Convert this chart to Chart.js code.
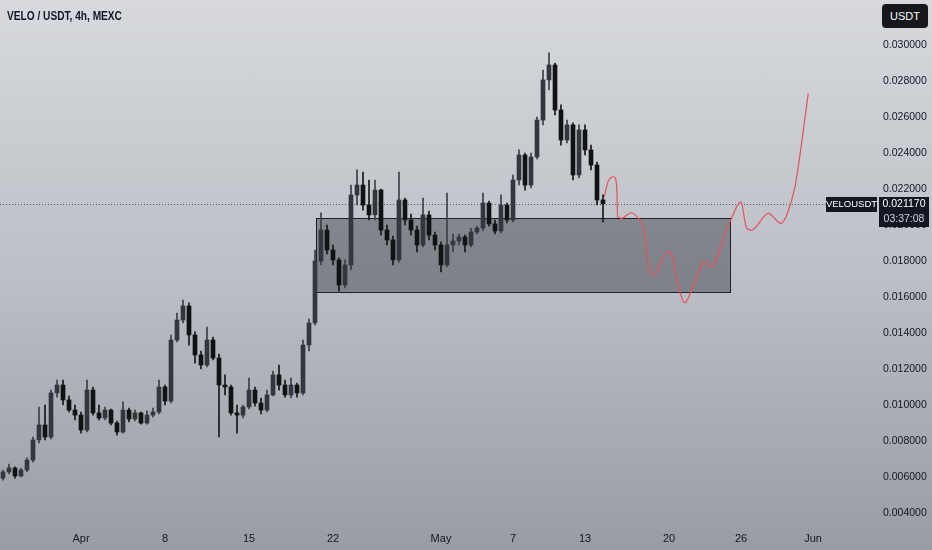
<!DOCTYPE html>
<html>
<head>
<meta charset="utf-8">
<title>VELO / USDT, 4h, MEXC</title>
<script src="https://cdn.jsdelivr.net/npm/chart.js@4.4.1/dist/chart.umd.min.js"></script>
<style>
  html, body { margin: 0; padding: 0; }
  body {
    width: 932px; height: 550px; overflow: hidden; position: relative;
    background: linear-gradient(180deg, #d7d9de 0%, #bcbfc5 50%, #999ca3 100%);
    font-family: 'Liberation Sans', Arial, sans-serif;
  }
  #wrap { position: absolute; left: 0; top: 0; width: 932px; height: 550px; }
  #title {
    position: absolute; left: 7px; top: 8px; font-weight: bold; font-size: 13px; color: #131722;
    transform: scaleX(0.78); transform-origin: left top; white-space: nowrap;
  }
  #unit {
    position: absolute; left: 882px; top: 4px; width: 46px; height: 24px;
    background: #15171c; border-radius: 4px; color: #fff; font-size: 11px;
    line-height: 24px; text-align: center;
  }
</style>
</head>
<body>
<div id="wrap"><canvas id="chart"></canvas></div>
<div id="title">VELO / USDT, 4h, MEXC</div>
<div id="unit">USDT</div>
<script>
// candles: 12h buckets, time in days from Apr 1
const firstCandleDay = -6.5;
const candleStepDays = 0.5;

const opens = [
  0.00594, 0.00628, 0.00650, 0.00606, 0.00639, 0.00694, 0.00806, 0.00889, 0.00822, 0.01067,
  0.01111, 0.01028, 0.00972, 0.00944, 0.00861, 0.01083, 0.00956, 0.00928, 0.00972, 0.00900,
  0.00850, 0.00972, 0.00922, 0.00956, 0.00900, 0.00944, 0.00961, 0.01100, 0.01022, 0.01361,
  0.01472, 0.01550, 0.01389, 0.01278, 0.01222, 0.01361, 0.01261, 0.01111, 0.01100, 0.00956,
  0.00944, 0.00989, 0.01083, 0.01011, 0.00972, 0.01056, 0.01167, 0.01111, 0.01056, 0.01111,
  0.01067, 0.01333, 0.01456, 0.01800, 0.01972, 0.01861, 0.01806, 0.01667, 0.01778, 0.02167,
  0.02222, 0.02111, 0.02056, 0.02194, 0.01972, 0.01917, 0.01806, 0.02139, 0.02028, 0.01972,
  0.01889, 0.02056, 0.01944, 0.01889, 0.01778, 0.01889, 0.01911, 0.01933, 0.01889, 0.01961,
  0.01983, 0.02122, 0.02006, 0.01967, 0.02111, 0.02028, 0.02250, 0.02389, 0.02222, 0.02378,
  0.02583, 0.02806, 0.02889, 0.02639, 0.02472, 0.02556, 0.02278, 0.02528, 0.02417, 0.02333,
  0.02139
];
const highs = [
  0.00639, 0.00672, 0.00656, 0.00650, 0.00706, 0.00822, 0.00989, 0.01000, 0.01083, 0.01139,
  0.01139, 0.01050, 0.01000, 0.00961, 0.01139, 0.01100, 0.01000, 0.00989, 0.00978, 0.00911,
  0.01017, 0.00983, 0.00972, 0.00961, 0.00967, 0.00983, 0.01139, 0.01111, 0.01389, 0.01511,
  0.01583, 0.01567, 0.01406, 0.01300, 0.01433, 0.01378, 0.01283, 0.01167, 0.01111, 0.01000,
  0.01000, 0.01150, 0.01100, 0.01039, 0.01083, 0.01189, 0.01222, 0.01139, 0.01150, 0.01122,
  0.01361, 0.01478, 0.01861, 0.02067, 0.02000, 0.01889, 0.01817, 0.01806, 0.02222, 0.02306,
  0.02294, 0.02250, 0.02250, 0.02200, 0.02000, 0.01939, 0.02294, 0.02150, 0.02061, 0.01994,
  0.02150, 0.02078, 0.01961, 0.01906, 0.02178, 0.01950, 0.01950, 0.01944, 0.01983, 0.01994,
  0.02178, 0.02133, 0.02028, 0.02167, 0.02122, 0.02278, 0.02417, 0.02400, 0.02400, 0.02600,
  0.02861, 0.02956, 0.02900, 0.02667, 0.02583, 0.02567, 0.02556, 0.02556, 0.02444, 0.02350,
  0.02167
];
const lows = [
  0.00583, 0.00617, 0.00594, 0.00600, 0.00628, 0.00683, 0.00789, 0.00806, 0.00811, 0.01044,
  0.01000, 0.00961, 0.00917, 0.00844, 0.00850, 0.00944, 0.00917, 0.00917, 0.00889, 0.00833,
  0.00844, 0.00906, 0.00911, 0.00894, 0.00894, 0.00933, 0.00950, 0.01000, 0.01011, 0.01350,
  0.01456, 0.01333, 0.01233, 0.01200, 0.01211, 0.01250, 0.00822, 0.01056, 0.00944, 0.00844,
  0.00928, 0.00978, 0.00994, 0.00950, 0.00961, 0.01050, 0.01083, 0.01044, 0.01039, 0.01044,
  0.01056, 0.01300, 0.01444, 0.01778, 0.01839, 0.01778, 0.01633, 0.01650, 0.01750, 0.02111,
  0.02083, 0.02028, 0.02028, 0.01944, 0.01889, 0.01778, 0.01794, 0.02000, 0.01944, 0.01850,
  0.01878, 0.01917, 0.01861, 0.01739, 0.01767, 0.01850, 0.01889, 0.01850, 0.01878, 0.01950,
  0.01967, 0.01994, 0.01950, 0.01956, 0.02011, 0.02017, 0.02222, 0.02194, 0.02206, 0.02367,
  0.02556, 0.02750, 0.02611, 0.02444, 0.02456, 0.02250, 0.02261, 0.02389, 0.02306, 0.02111,
  0.02017
];
const closes = [
  0.00628, 0.00650, 0.00606, 0.00639, 0.00694, 0.00806, 0.00889, 0.00822, 0.01067, 0.01111,
  0.01028, 0.00972, 0.00944, 0.00861, 0.01083, 0.00956, 0.00928, 0.00972, 0.00900, 0.00850,
  0.00972, 0.00922, 0.00956, 0.00900, 0.00944, 0.00961, 0.01100, 0.01022, 0.01361, 0.01472,
  0.01550, 0.01389, 0.01278, 0.01222, 0.01361, 0.01261, 0.01111, 0.01100, 0.00956, 0.00944,
  0.00989, 0.01083, 0.01011, 0.00972, 0.01056, 0.01167, 0.01111, 0.01056, 0.01111, 0.01067,
  0.01333, 0.01456, 0.01800, 0.01972, 0.01861, 0.01806, 0.01667, 0.01778, 0.02167, 0.02222,
  0.02111, 0.02056, 0.02194, 0.01972, 0.01917, 0.01806, 0.02139, 0.02028, 0.01972, 0.01889,
  0.02056, 0.01944, 0.01889, 0.01778, 0.01889, 0.01911, 0.01933, 0.01889, 0.01961, 0.01983,
  0.02122, 0.02006, 0.01967, 0.02111, 0.02028, 0.02250, 0.02389, 0.02222, 0.02378, 0.02583,
  0.02806, 0.02889, 0.02639, 0.02472, 0.02556, 0.02278, 0.02528, 0.02417, 0.02333, 0.02139,
  0.02117
];

// hand drawn red projection
const forecastDays = [43.61, 43.92, 44.42, 44.64, 44.72, 45.06, 45.83, 46.44, 46.86, 47.42,
  47.69, 48.94, 49.28, 49.78, 50.33, 50.89, 52.0, 52.42, 54.08, 55.0, 55.47, 55.89, 57.28,
  58.33, 58.81, 59.5, 60.61];
const forecastPrices = [0.02157, 0.02241, 0.02268, 0.02213, 0.02046, 0.02037, 0.02068, 0.02037,
  0.01991, 0.01732, 0.01722, 0.01852, 0.01824, 0.01657, 0.01568, 0.01639, 0.01796, 0.01768,
  0.02018, 0.02129, 0.01982, 0.01972, 0.02065, 0.02009, 0.02056, 0.02213, 0.02732];

// support zone
const boxFrom = 19.58, boxTo = 54.08;
const boxHigh = 0.02039, boxLow = 0.01628;

const lastPrice = 0.02117;
const countdown = '03:37:08';
const symbol = 'VELOUSDT';

const yTicks = [0.004, 0.006, 0.008, 0.010, 0.012, 0.014, 0.016, 0.018, 0.020, 0.022, 0.024, 0.026, 0.028, 0.030];
const xTickDays = [0, 7, 14, 21, 30, 36, 42, 49, 55, 61];
const xTickLabels = ['Apr', '8', '15', '22', 'May', '7', '13', '20', '26', 'Jun'];

const candleDays = closes.map((_, i) => firstCandleDay + i * candleStepDays);
const isUp = closes.map((c, i) => c >= opens[i]);
const fontFamily = "'Liberation Sans', Arial, sans-serif";

const overlay = {
  id: 'overlay',
  beforeDatasetsDraw(chart) {
    const { ctx, chartArea, scales: { x, y } } = chart;
    const x0 = x.getPixelForValue(boxFrom), x1 = x.getPixelForValue(boxTo);
    const y0 = y.getPixelForValue(boxHigh), y1 = y.getPixelForValue(boxLow);
    ctx.save();
    ctx.fillStyle = 'rgba(45, 48, 56, 0.42)';
    ctx.fillRect(x0, y0, x1 - x0, y1 - y0);
    ctx.strokeStyle = '#1d2026';
    ctx.lineWidth = 1;
    ctx.strokeRect(Math.round(x0) + 0.5, Math.round(y0) + 0.5, Math.round(x1 - x0), Math.round(y1 - y0));
    // last price dotted line
    const py = Math.round(y.getPixelForValue(lastPrice)) + 0.5;
    ctx.setLineDash([1, 2]);
    ctx.strokeStyle = '#55585e';
    ctx.beginPath();
    ctx.moveTo(chartArea.left, py);
    ctx.lineTo(chartArea.right - 44, py);
    ctx.stroke();
    ctx.restore();
  },
  afterDraw(chart) {
    const { ctx, chartArea, scales: { y } } = chart;
    const py = Math.round(y.getPixelForValue(lastPrice));
    ctx.save();
    ctx.fillStyle = '#131722';
    ctx.fillRect(chartArea.right - 44, py - 7, 51, 15);
    ctx.fillRect(chartArea.right + 9, py - 7, 50, 30);
    ctx.textBaseline = 'middle';
    ctx.textAlign = 'center';
    ctx.fillStyle = '#ffffff';
    ctx.font = '9.5px ' + fontFamily;
    ctx.fillText(symbol, chartArea.right - 18.5, py + 0.5);
    ctx.font = '10.5px ' + fontFamily;
    ctx.fillText(lastPrice.toFixed(6), chartArea.right + 34, py + 0.5);
    ctx.fillStyle = '#d1d4dc';
    ctx.fillText(countdown, chartArea.right + 34, py + 15);
    ctx.restore();
  }
};

new Chart(document.getElementById('chart'), {
  type: 'bar',
  data: {
    datasets: [
      {
        label: 'wick',
        data: candleDays.map((d, i) => ({ x: d, y: [lows[i], highs[i]] })),
        backgroundColor: isUp.map(u => u ? '#3c3f45' : '#17181b'),
        barThickness: 1,
        grouped: false,
        order: 3
      },
      {
        label: 'body',
        data: candleDays.map((d, i) => ({ x: d, y: [opens[i], closes[i]] })),
        backgroundColor: isUp.map(u => u ? '#33363c' : '#111214'),
        barThickness: 4,
        grouped: false,
        order: 2
      },
      {
        type: 'line',
        label: 'projection',
        data: forecastDays.map((d, i) => ({ x: d, y: forecastPrices[i] })),
        borderColor: '#e4525d',
        borderWidth: 1.2,
        pointRadius: 0,
        cubicInterpolationMode: 'monotone',
        order: 1
      }
    ]
  },
  options: {
    responsive: true,
    maintainAspectRatio: false,
    animation: false,
    layout: { padding: { top: 25, left: 0, right: 0, bottom: 0 } },
    plugins: { legend: { display: false }, tooltip: { enabled: false } },
    scales: {
      x: {
        type: 'linear',
        min: -6.75,
        max: 65.75,
        offset: false,
        grid: { display: false, drawTicks: false },
        border: { display: false },
        afterBuildTicks: (s) => { s.ticks = xTickDays.map(v => ({ value: v })); },
        afterFit: (s) => { s.height = 23; },
        ticks: {
          autoSkip: false, maxRotation: 0, padding: 5, color: '#131722',
          font: { family: fontFamily, size: 11 },
          callback: (v) => xTickLabels[xTickDays.indexOf(v)]
        }
      },
      y: {
        position: 'right',
        min: 0.003222,
        max: 0.031111,
        grid: { display: false, drawTicks: false },
        border: { display: false },
        afterBuildTicks: (s) => { s.ticks = yTicks.map(v => ({ value: v })); },
        afterFit: (s) => { s.width = 62; },
        ticks: {
          padding: 13, color: '#131722',
          font: { family: fontFamily, size: 10.5 },
          callback: (v) => v.toFixed(6)
        }
      }
    }
  },
  plugins: [overlay]
});
</script>
</body>
</html>
